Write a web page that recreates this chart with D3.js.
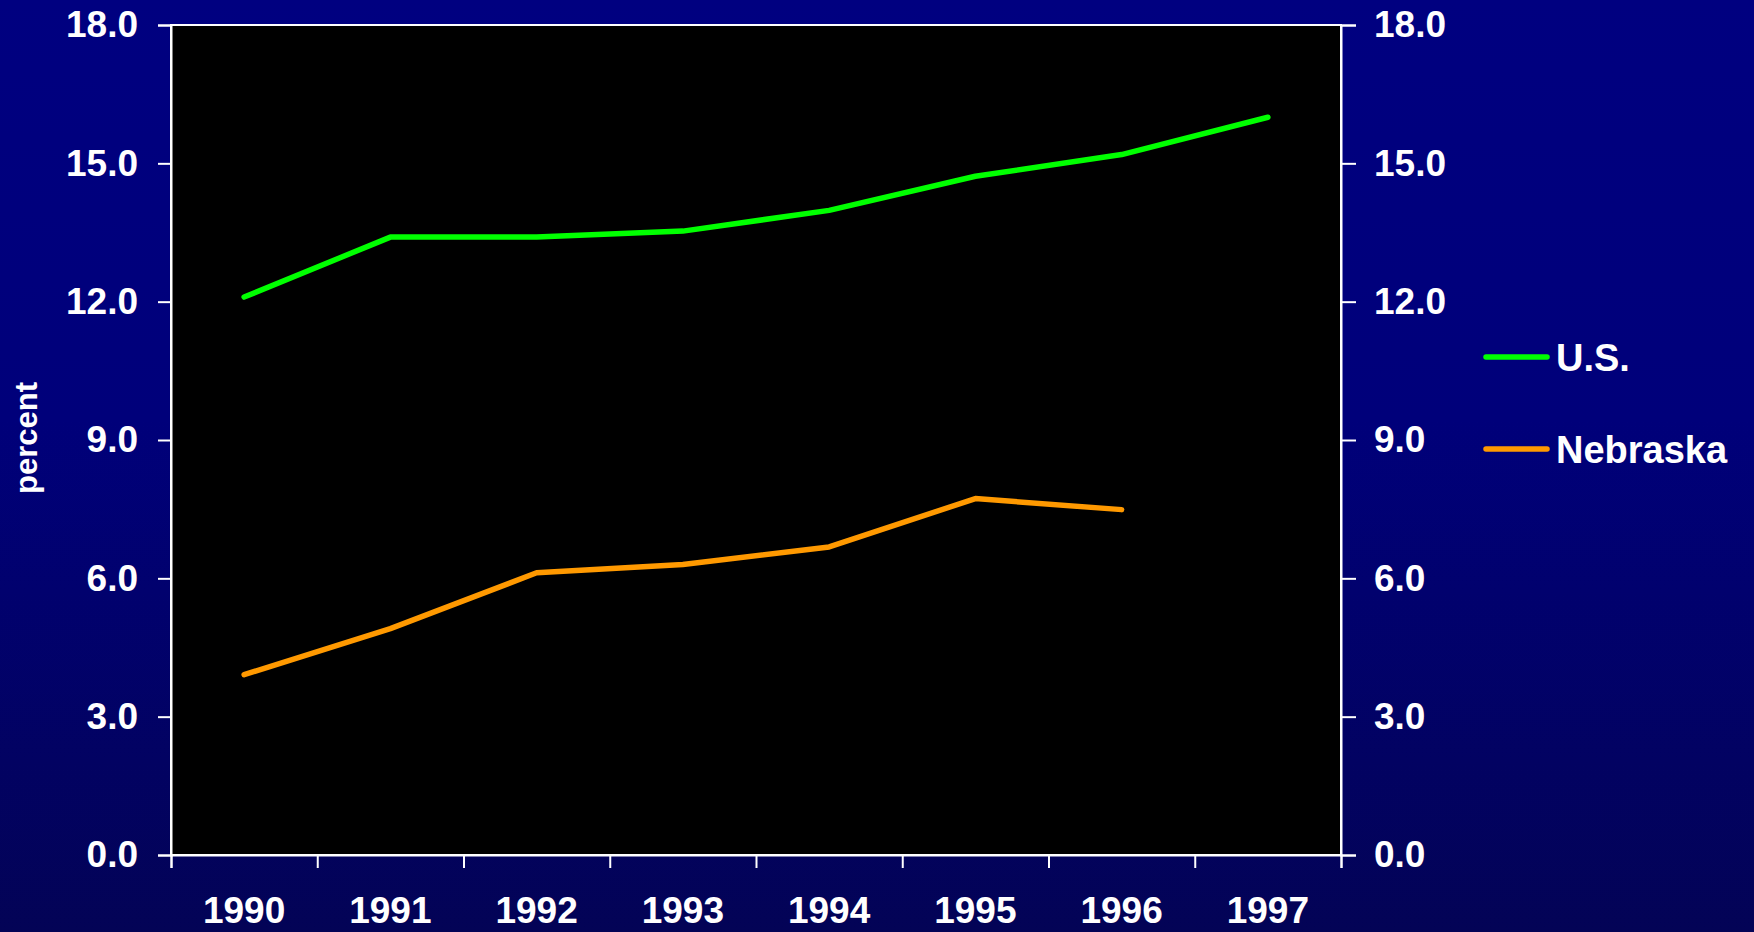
<!DOCTYPE html>
<html>
<head>
<meta charset="utf-8">
<script src="https://d3js.org/d3.v7.min.js"></script>
<style>
  html, body { margin: 0; padding: 0; background: #000070; }
  svg { display: block; }
  text { font-family: "Liberation Sans", Arial, Helvetica, sans-serif; font-weight: bold; fill: #fff; }
</style>
</head>
<body>
<div class="chart"></div>
<script>
// chart values
var years = ["1990", "1991", "1992", "1993", "1994", "1995", "1996", "1997"];
var usValues = [12.1, 13.4, 13.4, 13.53, 13.98, 14.72, 15.19, 16.0];
var nebraskaValues = [3.91, 4.91, 6.12, 6.3, 6.68, 7.73, 7.49];
var yTicks = [0, 3, 6, 9, 12, 15, 18];
var seriesNames = ["U.S.", "Nebraska"];

var width = 1754, height = 932;
var margin = {top: 25, right: 413, bottom: 77, left: 171};
var plotW = width - margin.left - margin.right;
var plotH = height - margin.top - margin.bottom;

var svg = d3.select("div.chart").append("svg")
  .attr("width", width)
  .attr("height", height);

// background gradient, navy going darker to the bottom
var grad = svg.append("defs").append("linearGradient")
  .attr("id", "bg").attr("x1", 0).attr("y1", 0).attr("x2", 0).attr("y2", 1);
grad.append("stop").attr("offset", "0%").attr("stop-color", "#000080");
grad.append("stop").attr("offset", "45%").attr("stop-color", "#00007a");
grad.append("stop").attr("offset", "100%").attr("stop-color", "#030356");
svg.append("rect").attr("width", width).attr("height", height).attr("fill", "url(#bg)");

var g = svg.append("g").attr("transform", "translate(" + margin.left + "," + margin.top + ")");

var x = d3.scaleBand().domain(years).range([0, plotW]);
var xEdge = d3.scaleLinear().domain([0, years.length]).range([0, plotW]);
var y = d3.scaleLinear().domain([0, 18]).range([plotH, 0]);

g.append("rect")
  .attr("width", plotW).attr("height", plotH)
  .attr("fill", "#000")
  .attr("stroke", "#fff").attr("stroke-width", 2);

// left axis
var yLeft = g.append("g")
  .call(d3.axisLeft(y).tickValues(yTicks).tickSize(13).tickPadding(20).tickFormat(d3.format(".1f")));
// right axis
var yRight = g.append("g").attr("transform", "translate(" + plotW + ",0)")
  .call(d3.axisRight(y).tickValues(yTicks).tickSize(15).tickPadding(18).tickFormat(d3.format(".1f")));
// bottom axis: ticks on the category edges
var xAxis = g.append("g").attr("transform", "translate(0," + plotH + ")")
  .call(d3.axisBottom(xEdge).tickValues(d3.range(years.length + 1)).tickSize(13).tickFormat(""));

[yLeft, yRight, xAxis].forEach(function(a) {
  a.select(".domain").attr("stroke", "#fff").attr("stroke-width", 2);
  a.selectAll(".tick line").attr("stroke", "#fff").attr("stroke-width", 2);
  a.selectAll(".tick text").style("font-size", "37px").attr("fill", "#fff");
});

// year labels centred in each band
g.append("g").selectAll("text")
  .data(years)
  .enter().append("text")
  .attr("x", function(d) { return x(d) + x.bandwidth() / 2; })
  .attr("y", plotH + 68)
  .attr("text-anchor", "middle")
  .style("font-size", "37px")
  .text(function(d) { return d; });

// y axis title
svg.append("text")
  .attr("transform", "translate(37,438) rotate(-90)")
  .attr("text-anchor", "middle")
  .style("font-size", "31px")
  .text("percent");

var line = d3.line()
  .x(function(d, i) { return x(years[i]) + x.bandwidth() / 2; })
  .y(function(d) { return y(d); });

var colors = ["#00ff00", "#ff9900"];
var series = [usValues, nebraskaValues];

g.selectAll("path.series")
  .data(series)
  .enter().append("path")
  .attr("class", "series")
  .attr("d", line)
  .attr("fill", "none")
  .attr("stroke", function(d, i) { return colors[i]; })
  .attr("stroke-width", 5.5)
  .attr("stroke-linecap", "round")
  .attr("stroke-linejoin", "round");

// legend
var legend = svg.append("g").attr("transform", "translate(1486,357)");
var item = legend.selectAll("g")
  .data(seriesNames)
  .enter().append("g")
  .attr("transform", function(d, i) { return "translate(0," + i * 92 + ")"; });
item.append("line")
  .attr("x1", 0).attr("x2", 61)
  .attr("stroke", function(d, i) { return colors[i]; })
  .attr("stroke-width", 5.5)
  .attr("stroke-linecap", "round");
item.append("text")
  .attr("x", 70)
  .attr("dy", "0.36em")
  .style("font-size", "38px")
  .text(function(d) { return d; });
</script>
</body>
</html>
